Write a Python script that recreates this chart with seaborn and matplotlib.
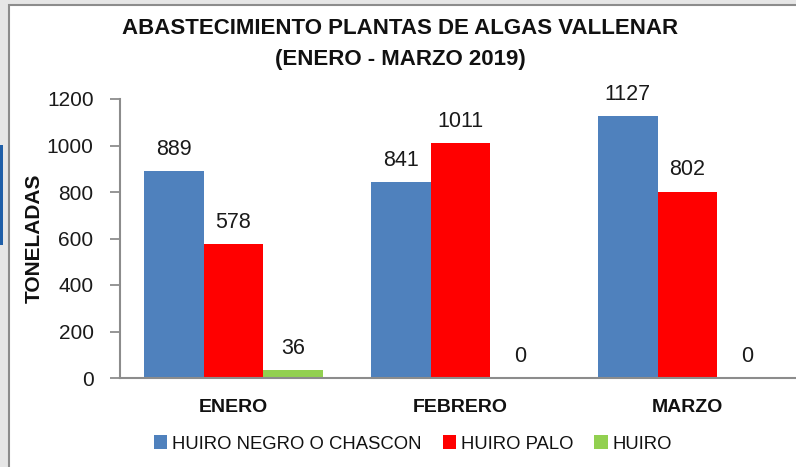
import matplotlib
matplotlib.use("Agg")
import matplotlib.pyplot as plt
import seaborn as sns
import pandas as pd
from matplotlib.patches import Rectangle, Patch

months = ["ENERO", "FEBRERO", "MARZO"]
series = ["HUIRO NEGRO O CHASCON", "HUIRO PALO", "HUIRO"]
huiro_negro = [889, 841, 1127]
huiro_palo = [578, 1011, 802]
huiro = [36, 0, 0]
colors = ["#4F81BD", "#FF0000", "#92D050"]
yticks = [0, 200, 400, 600, 800, 1000, 1200]

rows = []
for s, vals in zip(series, [huiro_negro, huiro_palo, huiro]):
    for m, v in zip(months, vals):
        rows.append({"mes": m, "serie": s, "valor": v})
df = pd.DataFrame(rows)

sns.set_theme(style="white")
plt.rcParams["font.family"] = ["Liberation Sans", "DejaVu Sans"]

W, H = 796, 467
fig = plt.figure(figsize=(W / 100, H / 100), dpi=100)
fig.patch.set_facecolor("#e6e6e6")
fig.patches.append(Rectangle((9 / W, -0.05), 1.1, 1 - 5 / H + 0.05, transform=fig.transFigure,
                             facecolor="white", edgecolor="#8c8c8c", linewidth=1.5, zorder=-5))
fig.patches.append(Rectangle((0, 1 - 245 / H), 3 / W, 100 / H, transform=fig.transFigure,
                             facecolor="#1f5fa8", edgecolor="none", zorder=-4))

ax = fig.add_axes([120 / W, 1 - 378 / H, 681 / W, (378 - 99) / H])
ax.set_zorder(2)
ax.set_facecolor("none")
sns.barplot(data=df, x="mes", y="valor", hue="serie", hue_order=series, order=months,
            palette=colors, width=0.79, saturation=1, ax=ax, legend=False, errorbar=None,
            linewidth=0)

for c in ax.containers:
    ax.bar_label(c, labels=[f"{int(v)}" for v in c.datavalues], padding=8, fontsize=15.5,
                 color="#1a1a1a")

ax.set_xlim(-0.5, 2.5)
ax.set_ylim(0, 1200)
ax.set_yticks(yticks)
ax.set_yticklabels([str(t) for t in yticks], fontsize=15, color="#1a1a1a")
ax.tick_params(axis="y", direction="out", length=7, width=1.3, color="#8c8c8c", pad=12, left=True)
ax.tick_params(axis="x", length=0, pad=15)
for lab in ax.get_xticklabels():
    lab.set_fontweight("bold")
    lab.set_fontsize(14)
    lab.set_color("#111111")
ax.set_xlabel("")
ax.set_ylabel("TONELADAS", fontsize=15, fontweight="bold", color="#111111")
for s in ["top", "right"]:
    ax.spines[s].set_visible(False)
for s in ["left", "bottom"]:
    ax.spines[s].set_color("#8c8c8c")
    ax.spines[s].set_linewidth(1.5)
ax.yaxis.set_label_coords(-76 / 681, 0.5)

fig.text(400 / W, 1 - 28 / H, "ABASTECIMIENTO PLANTAS DE ALGAS VALLENAR", ha="center", va="center",
         fontsize=16, fontweight="bold", color="#111111")
fig.text(400 / W, 1 - 60 / H, "(ENERO - MARZO 2019)", ha="center", va="center",
         fontsize=16, fontweight="bold", color="#111111")

handles = [Patch(facecolor=c, edgecolor="none") for c in colors]
fig.legend(handles, series, loc="center", bbox_to_anchor=(413 / W, 1 - 444 / H), ncol=3,
           frameon=False, prop={"size": 13.3}, handlelength=0.72, handleheight=0.75,
           handletextpad=0.25, columnspacing=1.15, labelcolor="#111111")

fig.savefig("out.png", dpi=100)
